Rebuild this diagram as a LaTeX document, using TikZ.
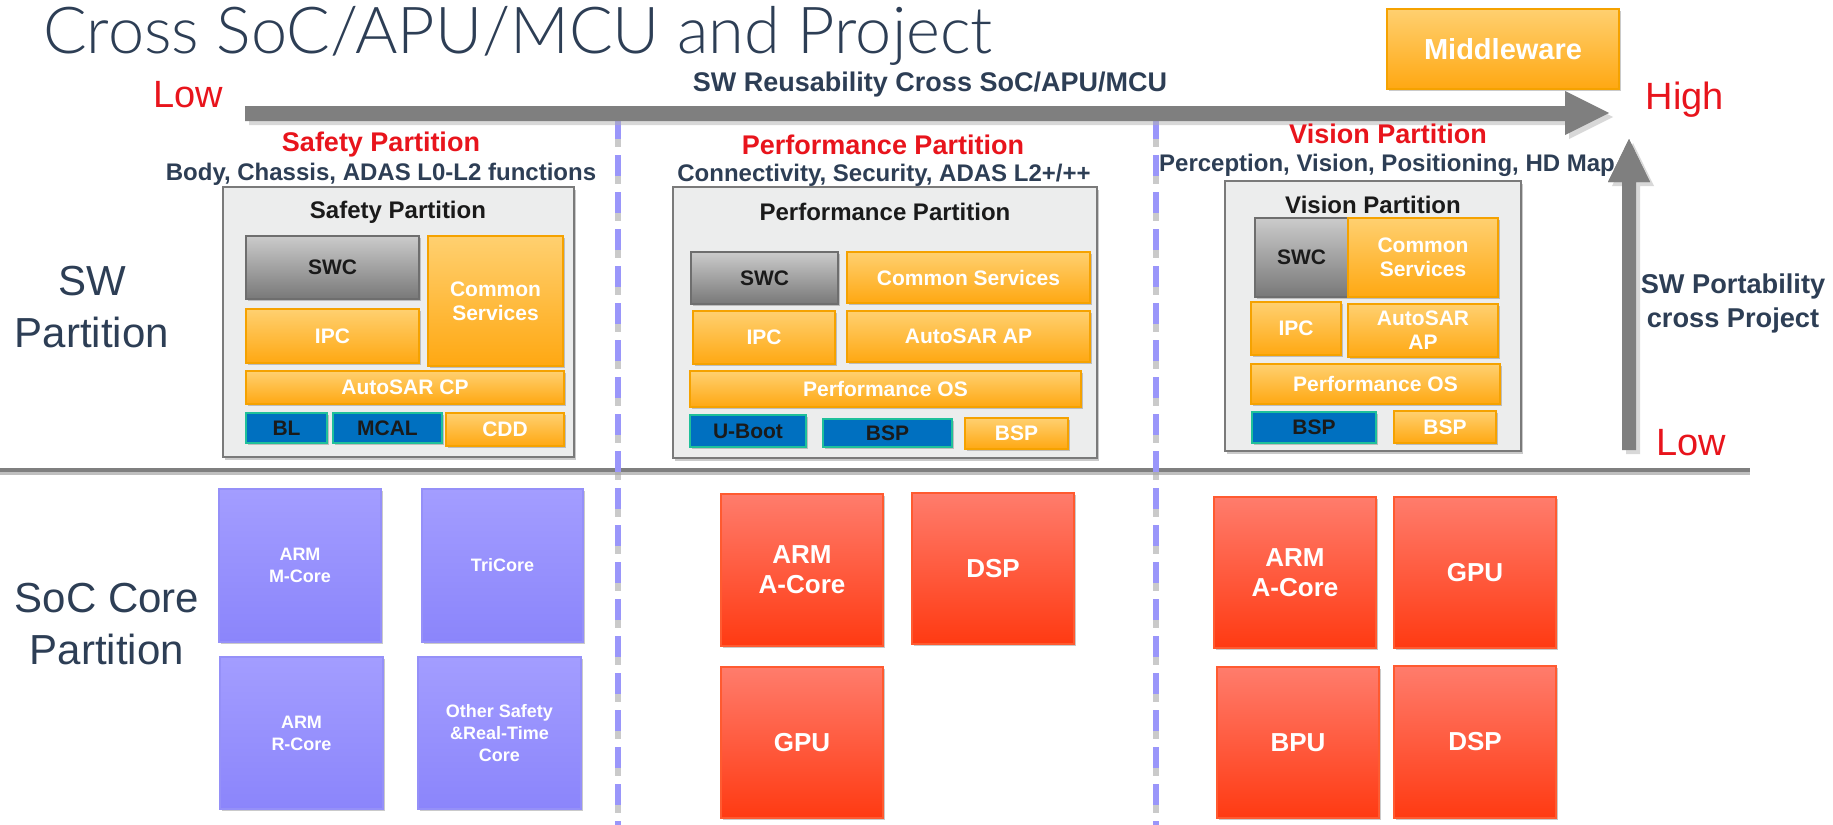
\documentclass[tikz,border=0pt]{standalone}
\usepackage{fontspec}
\setmainfont{Liberation Sans}
\newfontfamily\titlefont{Lato Light}
\usetikzlibrary{shadows}
\definecolor{navy}{HTML}{2D3E55}
\definecolor{redtxt}{HTML}{E8141C}
\definecolor{dark}{HTML}{1A1A1A}
\definecolor{arrowgray}{HTML}{7F7F7F}
\definecolor{dashblue}{HTML}{9A96FA}
\newcommand\boxnode[7]{%
  \pgfmathsetmacro\bw{(#5-#3)*0.5}\pgfmathsetmacro\bh{(#6-#4)*0.5}%
  \node[#2, minimum width=\bw pt, minimum height=\bh pt, inner sep=0pt] (#1) at ({(#3+#5)/2},{(#4+#6)/2}) {#7};}
\tikzset{
  shd/.style={drop shadow={shadow xshift=0.8pt, shadow yshift=-1.2pt, opacity=0.35, fill=black!60}},
  orangebox/.style={shd, top color={rgb,255:red,255;green,208;blue,112}, bottom color={rgb,255:red,255;green,168;blue,18}, draw={rgb,255:red,245;green,162;blue,0}, line width=1pt, text=white, font=\bfseries\fontsize{10.5}{12}\selectfont, align=center},
  graybox/.style={shd, top color={rgb,255:red,203;green,203;blue,203}, bottom color={rgb,255:red,120;green,120;blue,120}, draw={rgb,255:red,110;green,110;blue,110}, line width=1pt, text=dark, font=\bfseries\fontsize{10.5}{12}\selectfont},
  bluebox/.style={shd, fill={rgb,255:red,0;green,112;blue,192}, draw={rgb,255:red,31;green,192;blue,154}, line width=1pt, text=dark, font=\bfseries\fontsize{10.5}{12}\selectfont},
  partbox/.style={drop shadow={shadow xshift=1pt, shadow yshift=-1.5pt, opacity=0.35, fill=black!60}, fill={rgb,255:red,236;green,237;blue,237}, draw={rgb,255:red,122;green,122;blue,122}, line width=1.2pt},
  purplebox/.style={shd, top color={rgb,255:red,163;green,157;blue,255}, bottom color={rgb,255:red,139;green,133;blue,251}, draw={rgb,255:red,149;green,144;blue,248}, line width=0.8pt, text=white, font=\bfseries\fontsize{9}{11}\selectfont, align=center},
  redbox/.style={shd, top color={rgb,255:red,255;green,124;blue,108}, bottom color={rgb,255:red,255;green,58;blue,18}, draw={rgb,255:red,255;green,90;blue,48}, line width=0.8pt, text=white, font=\bfseries\fontsize{13}{15}\selectfont, align=center},
  parttitle/.style={text=dark, font=\bfseries\fontsize{12}{14}\selectfont, inner sep=0pt},
  redhead/.style={text=redtxt, font=\bfseries\fontsize{13.5}{16}\selectfont, inner sep=0pt},
  subhead/.style={text=navy, font=\bfseries\fontsize{12}{14}\selectfont, inner sep=0pt},
  lowhigh/.style={text=redtxt, font=\fontsize{19}{22}\selectfont, inner sep=0pt},
  sidelabel/.style={text=navy, font=\fontsize{21}{26}\selectfont, align=center, inner sep=0pt},
  divider/.style={dashblue, line width=2.8pt, dash pattern=on 10.5pt off 8pt},
  dividershadow/.style={black!35, opacity=0.6, line width=2.8pt, dash pattern=on 10.5pt off 8pt},
}
\begin{document}
\begin{tikzpicture}[x=0.5pt,y=-0.5pt]
\useasboundingbox (0,0) rectangle (1833,825);
% title
\node[anchor=base west, text=navy, font=\titlefont\fontsize{32.4}{36}\selectfont, inner sep=0pt] (title) at (43,53) {Cross SoC/APU/MCU and Project};
% middleware
\boxnode{mw}{orangebox, font=\bfseries\fontsize{14.5}{17}\selectfont}{1387}{9}{1619}{89}{Middleware}
% horizontal separator
\coordinate (hl) at (0,470); \coordinate (hr) at (1750,470);
\draw[black!25, line width=2pt] ([yshift=-1.5pt]hl) -- ([yshift=-1.5pt]hr);
\draw[arrowgray, line width=2pt] (hl) -- (hr);
% dividers
\coordinate (d1t) at (618,118); \coordinate (d1b) at (618,825);
\coordinate (d2t) at (1156,118); \coordinate (d2b) at (1156,825);
\draw[dividershadow] ([yshift=-4pt]d1t) -- ([yshift=-4pt]d1b);
\draw[dividershadow] ([yshift=-4pt]d2t) -- ([yshift=-4pt]d2b);
\draw[divider] (d1t) -- (d1b);
\draw[divider] (d2t) -- (d2b);
% horizontal arrow
\fill[black!30, opacity=0.5] (249,110) -- (1569,110) -- (1569,95) -- (1613,117) -- (1569,139) -- (1569,125) -- (249,125) -- cycle;
\fill[arrowgray] (245,106) -- (1565,106) -- (1565,91) -- (1609,113) -- (1565,135) -- (1565,121) -- (245,121) -- cycle;
% vertical arrow
\fill[black!30, opacity=0.5] (1626,454) -- (1626,186) -- (1612,186) -- (1633,143) -- (1654,186) -- (1640,186) -- (1640,454) -- cycle;
\fill[arrowgray] (1622,450) -- (1622,182) -- (1608,182) -- (1629,139) -- (1650,182) -- (1636,182) -- (1636,450) -- cycle;
% axis labels
\node[lowhigh] (lowl) at (188,95) {Low};
\node[lowhigh] (high) at (1685,100) {High};
\node[lowhigh] (lowr) at (1691,443) {Low};
\node[subhead, font=\bfseries\fontsize{13.5}{16}\selectfont] (reuse) at (930,85) {SW Reusability Cross SoC/APU/MCU};
\node[subhead, font=\bfseries\fontsize{13.6}{17}\selectfont, align=center] (port) at (1733,303) {SW Portability\\cross Project};
% side labels
\node[sidelabel] (swp) at (92,307) {SW\\Partition};
\node[sidelabel] (socp) at (107,624) {SoC Core\\Partition};
% headings
\node[redhead] (hsafe) at (381,145) {Safety Partition};
\node[subhead] (ssafe) at (381,174) {Body, Chassis, ADAS L0-L2 functions};
\node[redhead] (hperf) at (883,145) {Performance Partition};
\node[subhead] (sperf) at (884,175) {Connectivity, Security, ADAS L2+/++};
\node[redhead] (hvis) at (1388,134) {Vision Partition};
% safety partition
\boxnode{psafe}{partbox}{223}{187}{574}{457}{}
\node[parttitle] (tsafe) at (398,212) {Safety Partition};
\boxnode{s_swc}{graybox}{246}{236}{419}{299}{SWC}
\boxnode{s_cs}{orangebox}{428}{236}{563}{366}{Common\\Services}
\boxnode{s_ipc}{orangebox}{246}{309}{419}{363}{IPC}
\boxnode{s_cp}{orangebox}{246}{371}{564}{404}{AutoSAR CP}
\boxnode{s_bl}{bluebox}{246}{413}{327}{443}{BL}
\boxnode{s_mcal}{bluebox}{333}{413}{442}{443}{MCAL}
\boxnode{s_cdd}{orangebox}{446}{413}{564}{446}{CDD}
% performance partition
\boxnode{pperf}{partbox}{673}{187}{1097}{458}{}
\node[parttitle] (tperf) at (885,212) {Performance Partition};
\boxnode{p_swc}{graybox}{691}{252}{838}{304}{SWC}
\boxnode{p_cs}{orangebox}{847}{252}{1090}{303}{Common Services}
\boxnode{p_ipc}{orangebox}{693}{311}{835}{364}{IPC}
\boxnode{p_ap}{orangebox}{847}{311}{1090}{362}{AutoSAR AP}
\boxnode{p_os}{orangebox}{690}{371}{1081}{407}{Performance OS}
\boxnode{p_ub}{bluebox}{690}{415}{806}{447}{U-Boot}
\boxnode{p_bspb}{bluebox}{823}{419}{952}{447}{BSP}
\boxnode{p_bspo}{orangebox}{965}{418}{1068}{449}{BSP}
% vision partition
\boxnode{pvis}{partbox}{1225}{181}{1521}{451}{}
\node[subhead] (svis) at (1387,165) {Perception, Vision, Positioning, HD Map};
\node[parttitle] (tvis) at (1373,205) {Vision Partition};
\boxnode{v_swc}{graybox}{1255}{218}{1348}{297}{SWC}
\boxnode{v_cs}{orangebox}{1348}{218}{1498}{297}{Common\\Services}
\boxnode{v_ipc}{orangebox}{1251}{302}{1341}{355}{IPC}
\boxnode{v_ap}{orangebox}{1348}{304}{1498}{357}{AutoSAR\\AP}
\boxnode{v_os}{orangebox}{1251}{364}{1500}{404}{Performance OS}
\boxnode{v_bspb}{bluebox}{1252}{412}{1376}{443}{BSP}
\boxnode{v_bspo}{orangebox}{1394}{411}{1496}{443}{BSP}
% redraw vertical arrow head over text
\fill[arrowgray] (1608,182) -- (1629,139) -- (1650,182) -- cycle;
% safety cores
\boxnode{c_mc}{purplebox}{219}{489}{381}{642}{ARM\\M-Core}
\boxnode{c_tc}{purplebox}{422}{489}{583}{642}{TriCore}
\boxnode{c_rc}{purplebox}{220}{657}{383}{809}{ARM\\R-Core}
\boxnode{c_ot}{purplebox}{418}{657}{581}{809}{Other Safety\\\&Real-Time\\Core}
% performance cores
\boxnode{c_pa}{redbox}{721}{494}{883}{646}{ARM\\A-Core}
\boxnode{c_pd}{redbox}{912}{493}{1074}{644}{DSP}
\boxnode{c_pg}{redbox}{721}{667}{883}{818}{GPU}
% vision cores
\boxnode{c_va}{redbox}{1214}{497}{1376}{648}{ARM\\A-Core}
\boxnode{c_vg}{redbox}{1394}{497}{1556}{648}{GPU}
\boxnode{c_vb}{redbox}{1217}{667}{1379}{818}{BPU}
\boxnode{c_vd}{redbox}{1394}{666}{1556}{818}{DSP}
\end{tikzpicture}
\end{document}
